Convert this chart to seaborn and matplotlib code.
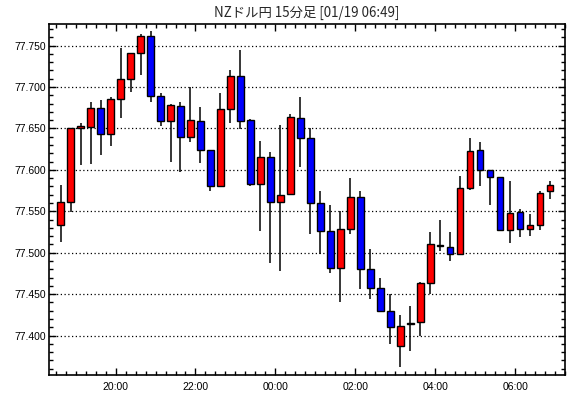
import pandas as pd
import numpy as np
import matplotlib
matplotlib.use("Agg")
import matplotlib.pyplot as plt
import matplotlib.dates as mdates
import seaborn as sns

# ==============================================================
# Données : NZドル円 15分足 (open / high / low / close)
# ==============================================================
opens = [77.534, 77.561, 77.650, 77.652, 77.675, 77.643, 77.686, 77.710, 77.741, 77.762,
         77.689, 77.659, 77.677, 77.640, 77.659, 77.624, 77.581, 77.673, 77.713, 77.660,
         77.583, 77.615, 77.561, 77.571, 77.663, 77.639, 77.560, 77.526, 77.482, 77.529,
         77.567, 77.480, 77.458, 77.430, 77.387, 77.414, 77.416, 77.464, 77.508, 77.507,
         77.499, 77.578, 77.624, 77.600, 77.591, 77.527, 77.549, 77.529, 77.533, 77.574]
highs = [77.582, 77.650, 77.656, 77.682, 77.684, 77.688, 77.747, 77.741, 77.764, 77.768,
         77.693, 77.680, 77.682, 77.700, 77.676, 77.624, 77.693, 77.721, 77.745, 77.661,
         77.635, 77.622, 77.654, 77.667, 77.688, 77.650, 77.574, 77.558, 77.550, 77.590,
         77.574, 77.505, 77.470, 77.450, 77.425, 77.436, 77.465, 77.525, 77.540, 77.525,
         77.593, 77.638, 77.634, 77.600, 77.591, 77.586, 77.553, 77.547, 77.574, 77.586]
lows = [77.513, 77.549, 77.606, 77.607, 77.618, 77.629, 77.662, 77.694, 77.714, 77.682,
        77.653, 77.610, 77.598, 77.634, 77.608, 77.575, 77.579, 77.657, 77.649, 77.580,
        77.526, 77.488, 77.478, 77.570, 77.603, 77.523, 77.499, 77.476, 77.440, 77.523,
        77.456, 77.444, 77.429, 77.390, 77.362, 77.382, 77.400, 77.450, 77.502, 77.490,
        77.499, 77.576, 77.580, 77.558, 77.527, 77.512, 77.519, 77.520, 77.527, 77.565]
closes = [77.561, 77.650, 77.653, 77.675, 77.643, 77.685, 77.710, 77.741, 77.762, 77.689,
          77.659, 77.678, 77.640, 77.660, 77.624, 77.581, 77.673, 77.713, 77.659, 77.583,
          77.615, 77.561, 77.570, 77.664, 77.638, 77.560, 77.526, 77.482, 77.529, 77.567,
          77.480, 77.458, 77.430, 77.411, 77.412, 77.414, 77.464, 77.510, 77.508, 77.499,
          77.578, 77.623, 77.600, 77.591, 77.527, 77.548, 77.529, 77.534, 77.572, 77.582]

start_time = "2024-01-18 18:30"
title = "NZドル円 15分足 [01/19 06:49]"

df = pd.DataFrame({"open": opens, "high": highs, "low": lows, "close": closes})
df["time"] = pd.date_range(start_time, periods=len(df), freq="15min")
df["centre"] = df["time"] + pd.Timedelta(minutes=7.5)
df["sens"] = np.where(df["close"] >= df["open"], "hausse", "baisse")

# ==============================================================
# Graphique
# ==============================================================
sns.set_style("ticks")
plt.rcParams["font.family"] = ["Liberation Sans", "DejaVu Sans"]

fig = plt.figure(figsize=(5.7, 3.98), dpi=100)
ax = fig.add_axes([49 / 570, 23 / 398, 516 / 570, 351 / 398])

x = mdates.date2num(df["centre"])
palette = {"hausse": "#ff0000", "baisse": "#0000ff"}
largeur = 10 / (24 * 60)

# mèches
ax.vlines(x, df["low"], df["high"], color="black", linewidth=1.1, zorder=2)
# corps
hauteur = (df["close"] - df["open"]).abs()
hauteur = hauteur.where(hauteur > 0.0008, 0.0008)
bas = df[["open", "close"]].min(axis=1)
ax.bar(x, hauteur, bottom=bas, width=largeur,
       color=df["sens"].map(palette), edgecolor="black", linewidth=1.0, zorder=3)

# axes
ax.set_ylim(77.3525, 77.776)
ax.set_xlim(mdates.date2num(pd.Timestamp("2024-01-18 18:20")),
            mdates.date2num(pd.Timestamp("2024-01-19 07:15")))
ax.yaxis.set_major_locator(plt.MultipleLocator(0.05))
ax.yaxis.set_minor_locator(plt.MultipleLocator(0.01))
ax.yaxis.set_major_formatter(plt.FormatStrFormatter("%.3f"))
ax.xaxis.set_major_locator(mdates.HourLocator(byhour=range(0, 24, 2)))
ax.xaxis.set_minor_locator(mdates.MinuteLocator(byminute=[0, 15, 30, 45]))
ax.xaxis.set_major_formatter(mdates.DateFormatter("%H:%M"))

ax.tick_params(which="both", direction="in", top=True, right=True,
               color="black", labelsize=7.5, labelcolor="black")
ax.tick_params(which="major", length=5, width=1)
ax.tick_params(which="minor", length=3, width=1)
ax.tick_params(axis="y", pad=2)
ax.tick_params(axis="x", pad=5)
ax.grid(axis="y", which="major", linestyle=(0, (1, 2)), color="black", linewidth=0.9)
ax.set_axisbelow(True)
for s in ax.spines.values():
    s.set_color("black")
    s.set_linewidth(1.2)

fig.text(307 / 570, 1 - 13 / 398, title, ha="center", va="center", fontsize=9.6,
         family=["Noto Sans CJK JP", "DejaVu Sans"])

plt.savefig("out.png", dpi=100, facecolor="white")
